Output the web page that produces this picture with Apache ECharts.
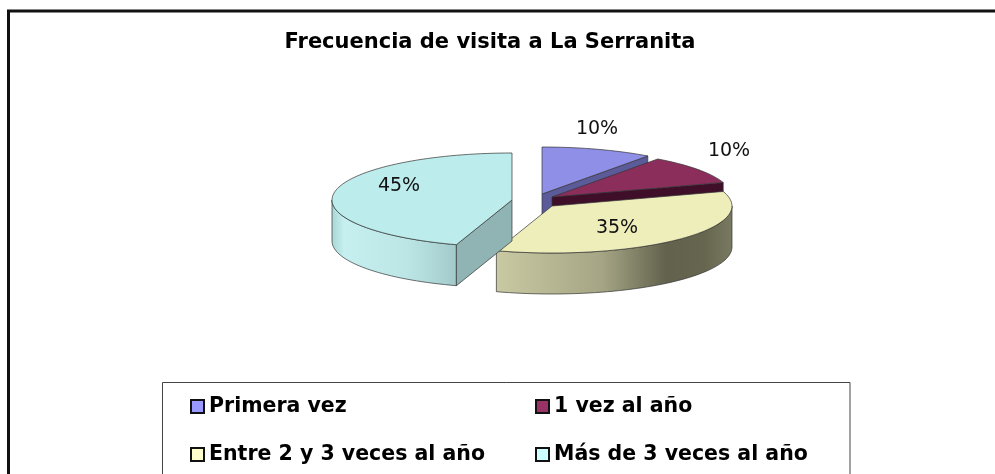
<!DOCTYPE html>
<html>
<head>
<meta charset="utf-8">
<style>html,body{margin:0;padding:0;background:#fff}#c{width:995px;height:474px}</style>
<script src="https://cdn.jsdelivr.net/npm/echarts@6/dist/echarts.min.js"></script>
</head>
<body>
<div id="c"></div>
<script>
const titleText = 'Frecuencia de visita a La Serranita';
const categories = ['Primera vez', '1 vez al año', 'Entre 2 y 3 veces al año', 'Más de 3 veces al año'];
const values = [10, 10, 35, 45];

const swatchColors = ['#9999ff', '#993366', '#ffffcc', '#ccffff'];
const topColors = ['#8f8fe8', '#8b2e5c', '#eeeebb', '#bcecec'];
const cutColors = ['#5b5b99', '#3f0f2a', '#8a8a6a', '#90b3b3'];
const wallStops = [
  [[0, '#5b5b99'], [1, '#5b5b99']],
  [[0, '#3f0f2a'], [1, '#3f0f2a']],
  [[0, '#c9c9a3'], [0.45, '#a5a585'], [0.72, '#62624d'], [0.88, '#66664f'], [1, '#7a7a62']],
  [[0, '#a9d5d5'], [0.1, '#c6f0f0'], [0.6, '#bce6e6'], [1, '#a3caca']]
];
// Projection of the tilted, exploded pie
const RX = 180, RY = 47, DEPTH = 41;
const sliceCentres = [[542, 194], [552, 197], [552, 206], [512, 200]];
const labelOffsets = [[55, -65], [177, -46], [65, 22], [-113, -14]];

const total = values.reduce((a, b) => a + b, 0);
function startAngle(i) {
  return values.slice(0, i).reduce((a, b) => a + b, 0) / total * 360;
}
function pt(c, deg, dy) {
  const r = deg * Math.PI / 180;
  return [c[0] + RX * Math.sin(r), c[1] - RY * Math.cos(r) + (dy || 0)];
}
function arc(c, a, b, dy) {
  const out = [], n = Math.max(2, Math.ceil(Math.abs(b - a) / 2));
  for (let k = 0; k <= n; k++) out.push(pt(c, a + (b - a) * k / n, dy));
  return out;
}
const LINE = { stroke: '#333', lineWidth: 0.7 };

function renderSlice(i) {
  return function (params, api) {
    const v = api.value(0);
    const a = startAngle(i), b = a + v / total * 360;
    const c = sliceCentres[i];
    const kids = [];
    const face = (p0, p1, fill) => kids.push({
      type: 'polygon',
      shape: { points: [p0, p1, [p1[0], p1[1] + DEPTH], [p0[0], p0[1] + DEPTH]] },
      style: Object.assign({ fill: fill }, LINE)
    });
    // outer wall: only the part facing the viewer
    const wa = Math.max(a, 90), wb = Math.min(b, 270);
    if (wb > wa) {
      kids.push({
        type: 'polygon',
        shape: { points: arc(c, wa, wb, 0).concat(arc(c, wb, wa, DEPTH)) },
        style: Object.assign({
          fill: { type: 'linear', x: 0, y: 0, x2: 1, y2: 0,
            colorStops: wallStops[i].map(s => ({ offset: s[0], color: s[1] })) }
        }, LINE)
      });
    }
    // cut faces
    if (Math.sin(b * Math.PI / 180) > 0.001) face(c, pt(c, b), cutColors[i]);
    if (Math.sin(a * Math.PI / 180) < -0.001) face(c, pt(c, a), cutColors[i]);
    // top
    kids.push({
      type: 'polygon',
      shape: { points: [c].concat(arc(c, a, b, 0)) },
      style: Object.assign({ fill: topColors[i] }, LINE)
    });
    kids.push({
      type: 'text', z2: 100,
      style: {
        text: v + '%', x: c[0] + labelOffsets[i][0], y: c[1] + labelOffsets[i][1],
        align: 'center', verticalAlign: 'middle',
        fontFamily: 'DejaVu Sans', fontSize: 19, fill: '#111'
      }
    });
    return { type: 'group', children: kids };
  };
}

const chart = echarts.init(document.getElementById('c'), null, { renderer: 'canvas' });
const legendBase = {
  orient: 'vertical', icon: 'rect', itemWidth: 13, itemHeight: 13, itemGap: 27,
  selectedMode: false, padding: 0, top: 396,
  itemStyle: { borderColor: '#111', borderWidth: 2 },
  textStyle: { fontFamily: 'DejaVu Sans', fontWeight: 'bold', fontSize: 20.5, color: '#000' }
};
chart.setOption({
  animation: false,
  backgroundColor: '#fff',
  title: {
    text: titleText, left: 490, textAlign: 'center', top: 32, padding: 0,
    textStyle: { fontFamily: 'DejaVu Sans', fontWeight: 'bold', fontSize: 21, color: '#000' }
  },
  legend: [
    Object.assign({}, legendBase, { left: 190, data: [categories[0], categories[2]] }),
    Object.assign({}, legendBase, { left: 535, data: [categories[1], categories[3]] })
  ],
  graphic: [
    { type: 'polyline', z: -1, shape: { points: [[8.5, 480], [8.5, 11], [1000, 11]] },
      style: { stroke: '#111', lineWidth: 3, fill: null } },
    { type: 'rect', z: -1, shape: { x: 162.5, y: 382.5, width: 687.5, height: 110 },
      style: { stroke: '#444', lineWidth: 1, fill: '#fff' } }
  ],
  series: categories.map((name, i) => ({
    type: 'custom', name: name, coordinateSystem: 'none',
    itemStyle: { color: swatchColors[i] },
    data: [[values[i]]],
    renderItem: renderSlice(i),
    silent: true, clip: false
  }))
});
</script>
</body>
</html>
